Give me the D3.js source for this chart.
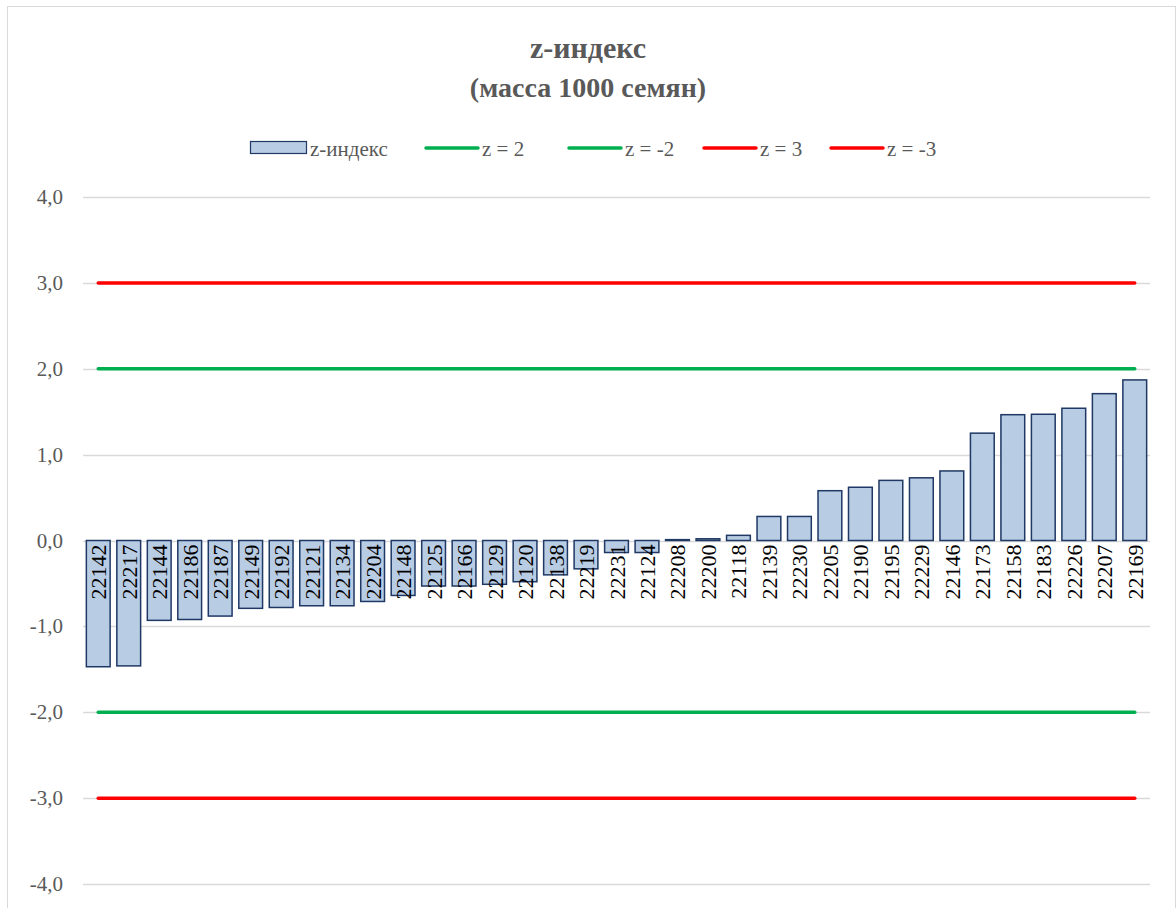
<!DOCTYPE html>
<html>
<head>
<meta charset="utf-8">
<script src="https://cdn.jsdelivr.net/npm/d3@7"></script>
<style>
  body { margin: 0; background: #fff; }
</style>
</head>
<body>
<script>
// sample ids and z-index (mass of 1000 seeds)
var categories = ["22142","22217","22144","22186","22187","22149","22192","22121","22134","22204",
  "22148","22125","22166","22129","22120","22138","22219","22231","22124","22208",
  "22200","22118","22139","22230","22205","22190","22195","22229","22146","22173",
  "22158","22183","22226","22207","22169"];
var zValues = [-1.47,-1.46,-0.93,-0.92,-0.88,-0.79,-0.78,-0.76,-0.76,-0.71,
  -0.64,-0.53,-0.53,-0.51,-0.48,-0.40,-0.33,-0.14,-0.14,0.01,
  0.02,0.06,0.28,0.28,0.58,0.62,0.70,0.73,0.81,1.25,
  1.465,1.47,1.54,1.71,1.87];
var refLines = [
  {name: "z = 2", value: 2, color: "#00b050"},
  {name: "z = -2", value: -2, color: "#00b050"},
  {name: "z = 3", value: 3, color: "#ff0000"},
  {name: "z = -3", value: -3, color: "#ff0000"}
];
var yTicks = [4, 3, 2, 1, 0, -1, -2, -3, -4];

var W = 1176, H = 908;
var plotLeft = 83, plotRight = 1150, plotTop = 197, plotBottom = 884;
var serif = "'Liberation Serif', 'Times New Roman', 'DejaVu Serif', serif";

var svg = d3.select("body").append("svg")
    .attr("width", W)
    .attr("height", H)
    .attr("font-family", serif);

svg.append("rect")
    .attr("x", 7.5).attr("y", 6.5)
    .attr("width", 1168).attr("height", 910)
    .attr("fill", "#fff")
    .attr("stroke", "#d9d9d9");

var x = d3.scaleBand()
    .domain(categories)
    .range([plotLeft, plotRight])
    .paddingInner(0.22)
    .paddingOuter(0.11);

var y = d3.scaleLinear()
    .domain([-4, 4])
    .range([plotBottom, plotTop]);

// gridlines
svg.append("g").selectAll("line")
    .data(yTicks)
  .enter().append("line")
    .attr("x1", plotLeft).attr("x2", plotRight)
    .attr("y1", function(d) { return Math.round(y(d)) + 0.5; })
    .attr("y2", function(d) { return Math.round(y(d)) + 0.5; })
    .attr("stroke", "#d9d9d9")
    .attr("stroke-width", 1.5);

// y labels
svg.append("g").selectAll("text")
    .data(yTicks)
  .enter().append("text")
    .attr("x", 63)
    .attr("y", function(d) { return y(d) + 7; })
    .attr("text-anchor", "end")
    .attr("font-size", "21px")
    .attr("fill", "#595959")
    .text(function(d) { return d3.format(".1f")(d).replace(".", ",").replace("−", "-"); });

// bars
svg.append("g").selectAll("rect")
    .data(zValues)
  .enter().append("rect")
    .attr("x", function(d, i) { return x(categories[i]); })
    .attr("y", function(d) { return y(Math.max(0, d)); })
    .attr("width", x.bandwidth())
    .attr("height", function(d) { return Math.abs(y(d) - y(0)); })
    .attr("fill", "#b8cce4")
    .attr("stroke", "#1f3864")
    .attr("stroke-width", 1.5);

// category labels, rotated
svg.append("g").selectAll("text")
    .data(categories)
  .enter().append("text")
    .attr("transform", function(d) {
      return "translate(" + (x(d) + x.bandwidth() / 2 + 8) + "," + (y(0) + 4) + ") rotate(-90)";
    })
    .attr("text-anchor", "end")
    .attr("font-size", "22px")
    .attr("fill", "#000")
    .text(function(d) { return d; });

// reference lines
var xFirst = x(categories[0]) + x.bandwidth() / 2;
var xLast = x(categories[categories.length - 1]) + x.bandwidth() / 2;
svg.append("g").selectAll("line")
    .data(refLines)
  .enter().append("line")
    .attr("x1", xFirst).attr("x2", xLast)
    .attr("y1", function(d) { return y(d.value); })
    .attr("y2", function(d) { return y(d.value); })
    .attr("stroke", function(d) { return d.color; })
    .attr("stroke-width", 3.5)
    .attr("stroke-linecap", "round");

// title
svg.append("text")
    .attr("x", 588).attr("y", 58)
    .attr("text-anchor", "middle")
    .attr("font-size", "30px")
    .attr("font-weight", "bold")
    .attr("fill", "#595959")
    .text("z-индекс");
svg.append("text")
    .attr("x", 588).attr("y", 97)
    .attr("text-anchor", "middle")
    .attr("font-size", "28px")
    .attr("font-weight", "bold")
    .attr("fill", "#595959")
    .text("(масса 1000 семян)");

// legend
var legend = svg.append("g").attr("font-size", "21px").attr("fill", "#595959");
legend.append("rect")
    .attr("x", 250.5).attr("y", 141.5)
    .attr("width", 56).attr("height", 12)
    .attr("fill", "#b8cce4")
    .attr("stroke", "#1f3864")
    .attr("stroke-width", 1.2);
legend.append("text").attr("x", 310).attr("y", 156).text("z-индекс");

var legendX = [424, 567, 702, 829];
refLines.forEach(function(d, i) {
  legend.append("line")
      .attr("x1", legendX[i] + 2).attr("x2", legendX[i] + 54)
      .attr("y1", 148).attr("y2", 148)
      .attr("stroke", d.color)
      .attr("stroke-width", 3.5)
      .attr("stroke-linecap", "round");
  legend.append("text").attr("x", legendX[i] + 58).attr("y", 156).text(d.name);
});
</script>
</body>
</html>
